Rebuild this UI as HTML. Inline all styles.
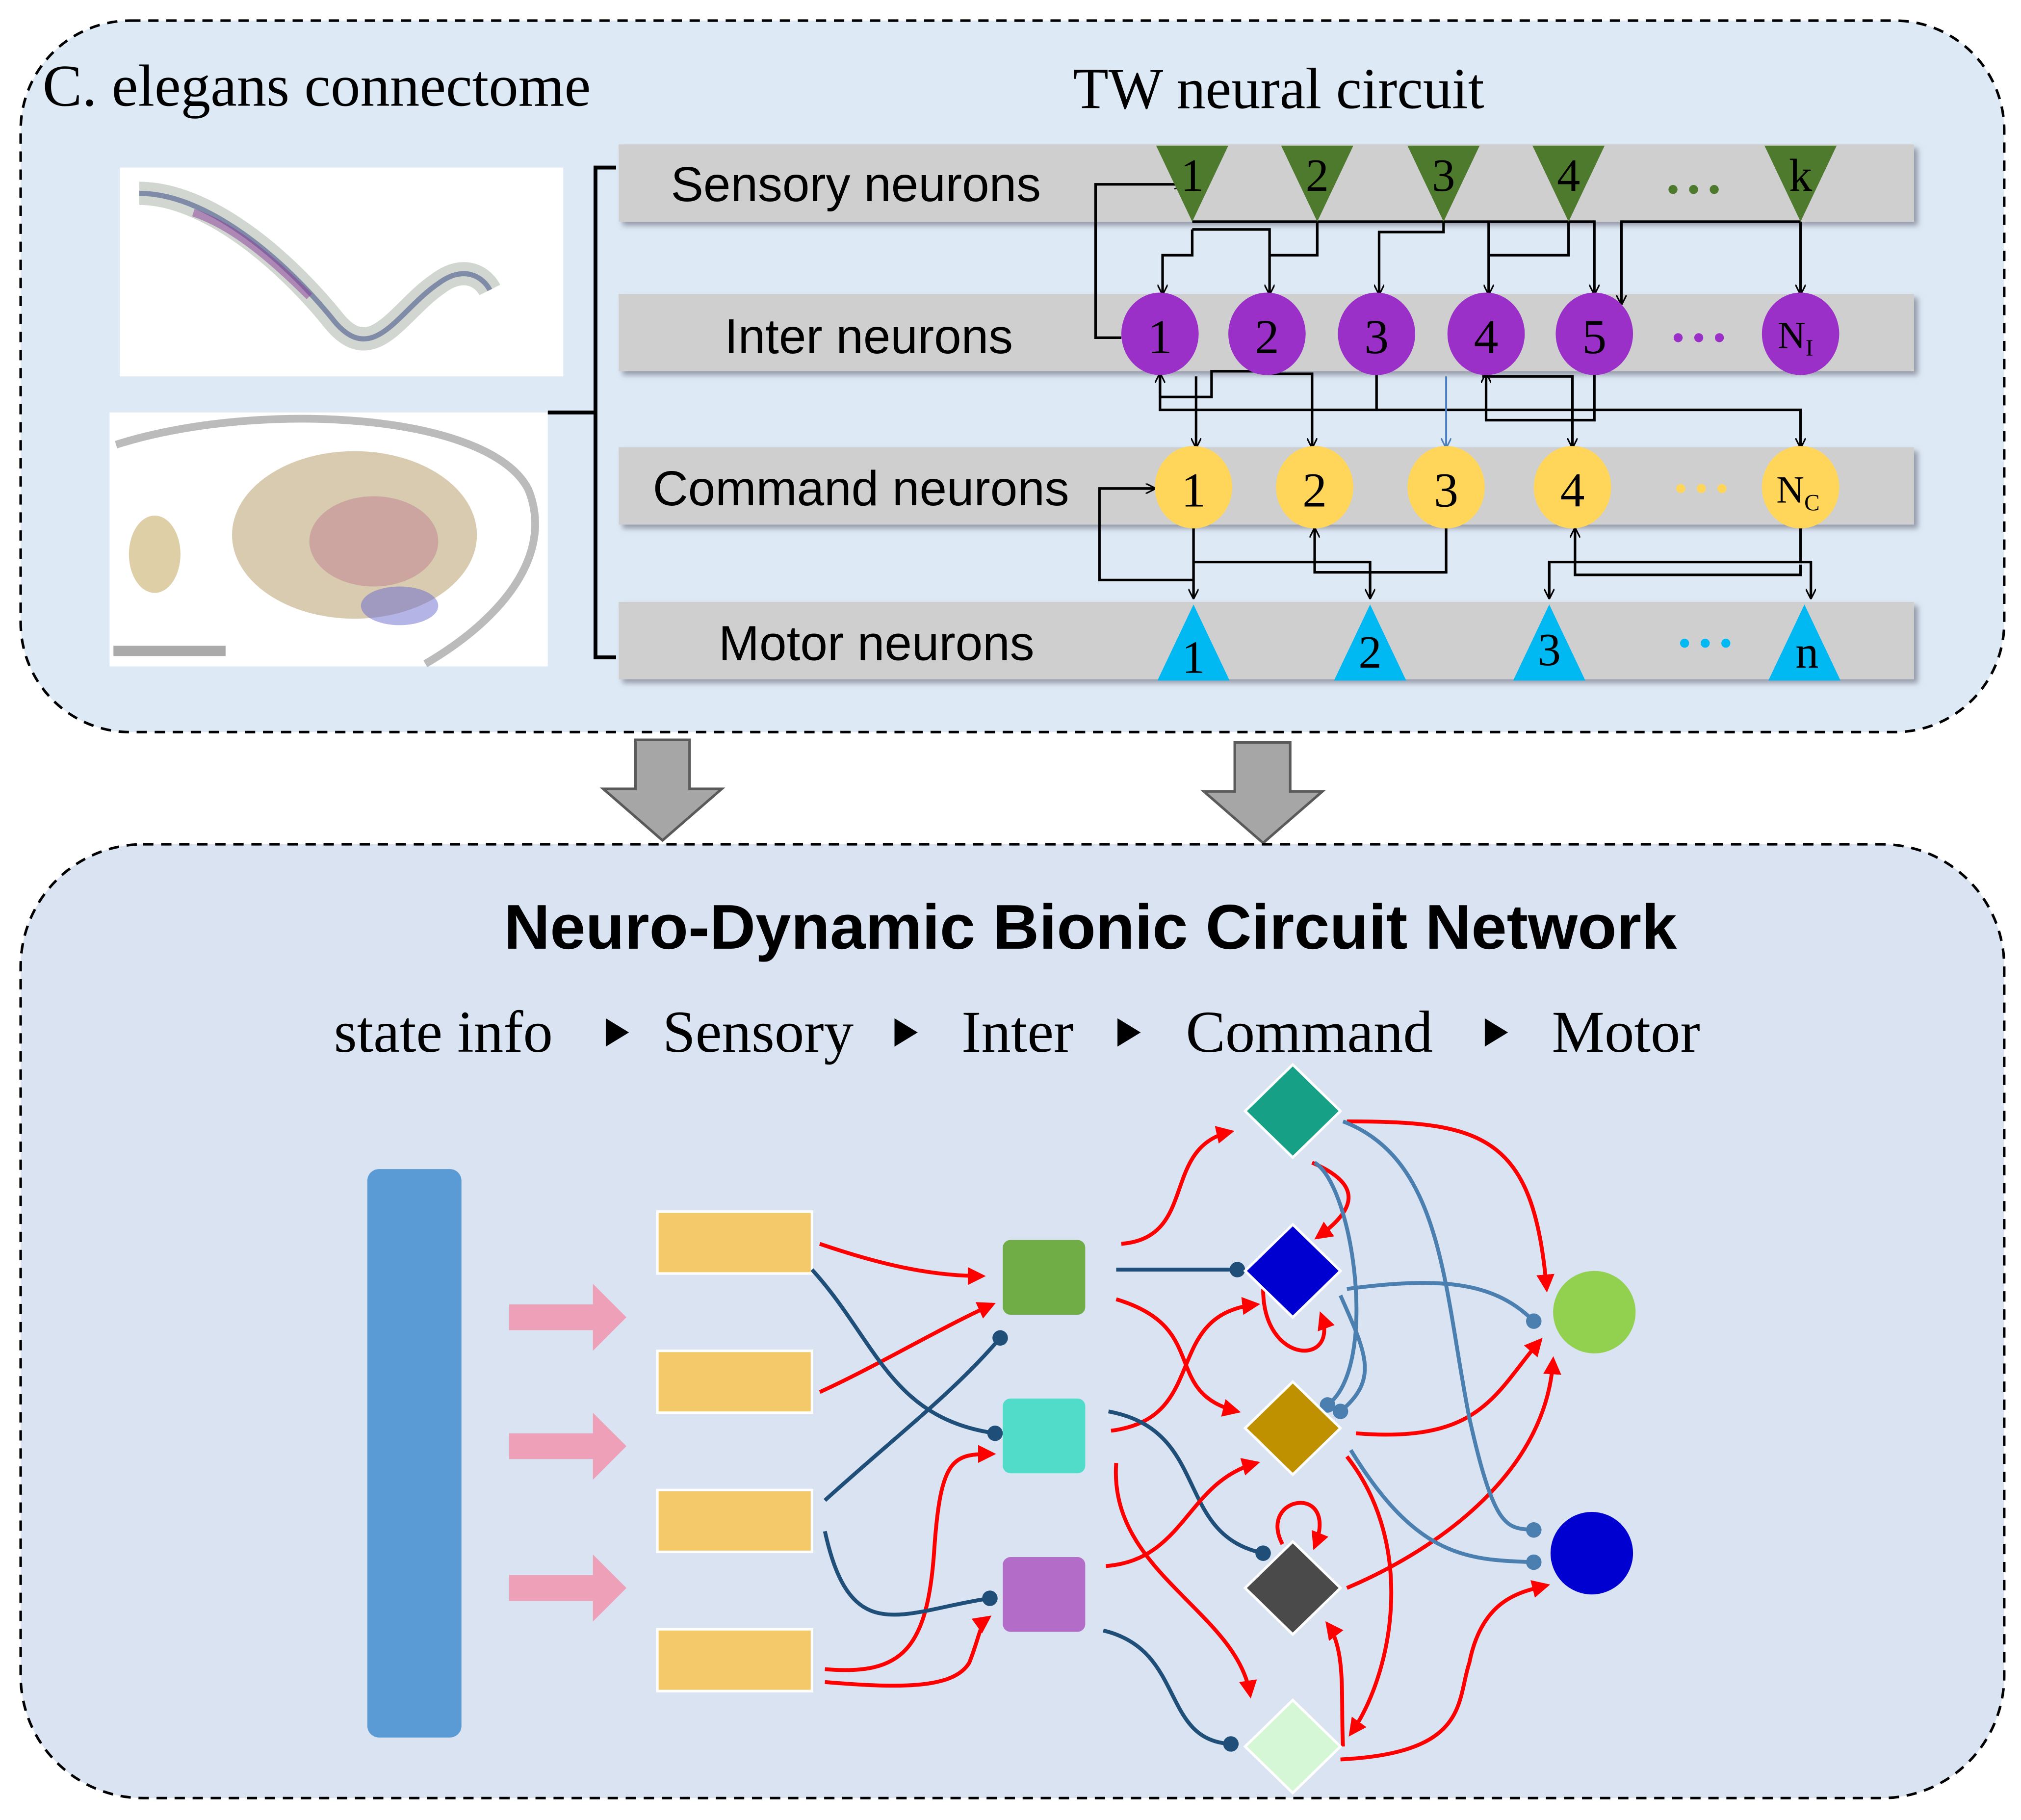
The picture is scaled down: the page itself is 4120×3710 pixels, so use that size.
<!DOCTYPE html>
<html><head><meta charset="utf-8"><style>
html,body{margin:0;padding:0;background:#fff}
svg{display:block}
.serif{font-family:"Liberation Serif",serif}
.sans{font-family:"Liberation Sans",sans-serif}
</style></head><body>
<svg width="4120" height="3710" viewBox="0 0 1568 1412" xmlns="http://www.w3.org/2000/svg">
<defs>
<marker id="a" viewBox="0 0 10 10" refX="9" refY="5" markerWidth="8" markerHeight="8" orient="auto-start-reverse" markerUnits="userSpaceOnUse"><path d="M0,0 L10,5 L0,10" fill="none" stroke="#000" stroke-width="1.5"/></marker>
<marker id="ab" viewBox="0 0 10 10" refX="9" refY="5" markerWidth="8" markerHeight="8" orient="auto" markerUnits="userSpaceOnUse"><path d="M0,0 L10,5 L0,10" fill="none" stroke="#4a7fc0" stroke-width="1.5"/></marker>
<marker id="r" viewBox="0 0 10 10" refX="8" refY="5" markerWidth="14" markerHeight="14" orient="auto" markerUnits="userSpaceOnUse"><path d="M0,0 L10,5 L0,10 z" fill="#f00"/></marker>
<marker id="d" viewBox="0 0 10 10" refX="5" refY="5" markerWidth="12" markerHeight="12" orient="auto" markerUnits="userSpaceOnUse"><circle cx="5" cy="5" r="5" fill="#1f4e79"/></marker>
<marker id="d2" viewBox="0 0 10 10" refX="5" refY="5" markerWidth="12" markerHeight="12" orient="auto" markerUnits="userSpaceOnUse"><circle cx="5" cy="5" r="5" fill="#4a7fb0"/></marker>
<filter id="sh" x="-5%" y="-20%" width="112%" height="150%"><feDropShadow dx="3" dy="3" stdDeviation="2" flood-color="#667" flood-opacity="0.6"/></filter>
</defs>
<rect width="1568" height="1412" fill="#fff"/>
<rect x="16" y="16" width="1539" height="552" rx="85" fill="#dde9f5" stroke="#000" stroke-width="2" stroke-dasharray="8,6"/>
<text x="33" y="82" class="serif" font-size="46">C. elegans connectome</text>
<text x="992" y="84" class="serif" font-size="45" text-anchor="middle">TW neural circuit</text>
<rect x="93" y="130" width="344" height="162" fill="#fff"/>
<path d="M108,150 C160,150 220,200 260,250 C290,285 310,240 340,220 C360,205 375,215 380,225" fill="none" stroke="#7a8a7a" stroke-width="18" opacity="0.35"/>
<path d="M108,150 C160,150 220,200 260,250 C290,285 310,240 340,220 C360,205 375,215 380,225" fill="none" stroke="#4a5a8a" stroke-width="4" opacity="0.6"/>
<path d="M150,165 C180,175 210,200 240,230" fill="none" stroke="#8a3a9a" stroke-width="6" opacity="0.5"/>
<rect x="85" y="320" width="340" height="197" fill="#fff"/>
<path d="M90,345 C200,310 380,320 410,380 C430,430 390,480 330,515" fill="none" stroke="#bbb" stroke-width="6"/>
<ellipse cx="275" cy="415" rx="95" ry="65" fill="#b8a070" opacity="0.55"/>
<ellipse cx="290" cy="420" rx="50" ry="35" fill="#c08090" opacity="0.5"/>
<ellipse cx="120" cy="430" rx="20" ry="30" fill="#c0a050" opacity="0.5"/>
<ellipse cx="310" cy="470" rx="30" ry="15" fill="#6a6ad0" opacity="0.5"/>
<path d="M88,505 L175,505" stroke="#aaa" stroke-width="8"/>
<path d="M478,130 L462,130 L462,510 L478,510 M462,320 L425,320" fill="none" stroke="#000" stroke-width="3"/>
<g fill="#cfcfcf" filter="url(#sh)">
<rect x="480" y="112" width="1005" height="60"/>
<rect x="480" y="228" width="1005" height="60"/>
<rect x="480" y="347" width="1005" height="60"/>
<rect x="480" y="467" width="1005" height="60"/>
</g>
<g class="sans" font-size="38" text-anchor="middle">
<text x="664" y="156">Sensory neurons</text>
<text x="674" y="274">Inter neurons</text>
<text x="668" y="392">Command neurons</text>
<text x="680" y="512">Motor neurons</text>
</g>
<g fill="none" stroke="#000" stroke-width="2">
<polyline points="870,262 850,262 850,143 918,143" marker-end="url(#a)"/>
<polyline points="925,172 1237,172 1237,228" marker-end="url(#a)"/>
<polyline points="925,178 925,198 902,198 902,228" marker-end="url(#a)"/>
<polyline points="925,178 985,178 985,228" marker-end="url(#a)"/>
<polyline points="1022,172 1022,198 985,198"/>
<polyline points="1120,172 1120,180 1070,180 1070,228" marker-end="url(#a)"/>
<polyline points="1155,172 1155,228" marker-end="url(#a)"/>
<polyline points="1217,172 1217,198 1155,198"/>
<polyline points="1397,172 1258,172 1258,236" marker-end="url(#a)"/>
<polyline points="1397,172 1397,228" marker-end="url(#a)"/>
<polyline points="900,288 900,318 1397,318 1397,347" marker-end="url(#a)"/>
<polyline points="928,292 928,347" marker-end="url(#a)"/>
<polyline points="983,288 940,288 940,308 900,308 900,290" marker-end="url(#a)"/>
<polyline points="983,290 1018,290 1018,347" marker-end="url(#a)"/>
<polyline points="1068,290 1068,318"/>
<polyline points="1237,290 1237,326 1153,326 1153,290" marker-end="url(#a)"/>
<polyline points="1150,292 1220,292 1220,347" marker-end="url(#a)"/>
<polyline points="926,408 926,464" marker-end="url(#a)"/>
<polyline points="926,436 1063,436 1063,464" marker-end="url(#a)"/>
<polyline points="1122,408 1122,444 1020,444 1020,410" marker-end="url(#a)"/>
<polyline points="1397,408 1397,436 1202,436 1202,464" marker-end="url(#a)"/>
<polyline points="1397,436 1405,436 1405,464" marker-end="url(#a)"/>
<polyline points="1397,438 1397,446 1222,446 1222,410" marker-end="url(#a)"/>
<polyline points="926,450 853,450 853,379 896,379" marker-end="url(#a)"/>
</g>
<polyline points="1122,292 1122,347" fill="none" stroke="#4a7fc0" stroke-width="1.5" marker-end="url(#ab)"/>
<g fill="#4e7a2e">
<polygon points="897,113 953,113 925,172"/><polygon points="994,113 1050,113 1022,172"/>
<polygon points="1092,113 1148,113 1120,172"/><polygon points="1189,113 1245,113 1217,172"/>
<polygon points="1369,113 1425,113 1397,172"/>
</g>
<g class="serif" font-size="36" text-anchor="middle">
<text x="925" y="148">1</text><text x="1022" y="148">2</text><text x="1120" y="148">3</text><text x="1217" y="148">4</text><text x="1397" y="148">k</text>
</g>
<g fill="#4e7a2e"><circle cx="1298" cy="147" r="3.5"/><circle cx="1314" cy="147" r="3.5"/><circle cx="1330" cy="147" r="3.5"/></g>
<g fill="#9a30c8">
<ellipse cx="900" cy="259" rx="30" ry="32"/><ellipse cx="983" cy="259" rx="30" ry="32"/><ellipse cx="1068" cy="259" rx="30" ry="32"/><ellipse cx="1153" cy="259" rx="30" ry="32"/><ellipse cx="1237" cy="259" rx="30" ry="32"/><ellipse cx="1397" cy="259" rx="30" ry="32"/>
<circle cx="1302" cy="262" r="3.5"/><circle cx="1318" cy="262" r="3.5"/><circle cx="1334" cy="262" r="3.5"/>
</g>
<g class="serif" font-size="38" text-anchor="middle">
<text x="900" y="274">1</text><text x="983" y="274">2</text><text x="1068" y="274">3</text><text x="1153" y="274">4</text><text x="1237" y="274">5</text>
<text x="1393" y="270" font-size="30">N<tspan font-size="18" dy="6">I</tspan></text>
</g>
<g fill="#ffd65a">
<ellipse cx="926" cy="378" rx="30" ry="32"/><ellipse cx="1020" cy="378" rx="30" ry="32"/><ellipse cx="1122" cy="378" rx="30" ry="32"/><ellipse cx="1220" cy="378" rx="30" ry="32"/><ellipse cx="1397" cy="378" rx="30" ry="32"/>
<circle cx="1304" cy="379" r="3.5"/><circle cx="1320" cy="379" r="3.5"/><circle cx="1336" cy="379" r="3.5"/>
</g>
<g class="serif" font-size="38" text-anchor="middle">
<text x="926" y="393">1</text><text x="1020" y="393">2</text><text x="1122" y="393">3</text><text x="1220" y="393">4</text>
<text x="1395" y="390" font-size="30">N<tspan font-size="18" dy="6">C</tspan></text>
</g>
<g fill="#00b8f2">
<polygon points="926,469 954,528 898,528"/><polygon points="1063,469 1091,528 1035,528"/><polygon points="1202,469 1230,528 1174,528"/><polygon points="1400,469 1428,528 1372,528"/>
<circle cx="1307" cy="499" r="3.5"/><circle cx="1323" cy="499" r="3.5"/><circle cx="1339" cy="499" r="3.5"/>
</g>
<g class="serif" font-size="36" text-anchor="middle">
<text x="926" y="522">1</text><text x="1063" y="518">2</text><text x="1202" y="516">3</text><text x="1402" y="518">n</text>
</g>
<g fill="#a6a6a6" stroke="#5a5a5a" stroke-width="2">
<polygon points="493,574 535,574 535,612 560,612 514,652 468,612 493,612"/>
<polygon points="958,576 1001,576 1001,614 1026,614 980,654 934,614 958,614"/>
</g>
<rect x="16" y="655" width="1539" height="740" rx="95" fill="#d9e3f2" stroke="#000" stroke-width="2" stroke-dasharray="8,6"/>
<text x="846" y="736" class="sans" font-size="49" font-weight="bold" text-anchor="middle" textLength="910" lengthAdjust="spacingAndGlyphs">Neuro-Dynamic Bionic Circuit Network</text>
<text x="259" y="816" class="serif" font-size="46">state info</text>
<text x="514" y="816" class="serif" font-size="46">Sensory</text>
<text x="746" y="816" class="serif" font-size="46">Inter</text>
<text x="920" y="816" class="serif" font-size="46">Command</text>
<text x="1204" y="816" class="serif" font-size="46">Motor</text>
<g fill="#000"><polygon points="470,790 488,801 470,812"/><polygon points="694,790 712,801 694,812"/><polygon points="867,790 885,801 867,812"/><polygon points="1152,790 1170,801 1152,812"/></g>
<rect x="285" y="907" width="73" height="441" rx="9" fill="#5b9bd5"/>
<g fill="#eea0b8">
<polygon points="395,1012 460,1012 460,996 486,1022 460,1048 460,1032 395,1032"/>
<polygon points="395,1112 460,1112 460,1096 486,1122 460,1148 460,1132 395,1132"/>
<polygon points="395,1222 460,1222 460,1206 486,1232 460,1258 460,1242 395,1242"/>
</g>
<g fill="#f4c96a" stroke="#fff" stroke-width="2">
<rect x="510" y="940" width="120" height="48"/><rect x="510" y="1048" width="120" height="48"/>
<rect x="510" y="1156" width="120" height="48"/><rect x="510" y="1264" width="120" height="48"/>
</g>
<g fill="none" stroke-width="3">
<path d="M636,965 C680,980 720,990 762,990" stroke="#f00" marker-end="url(#r)"/>
<path d="M636,1080 C680,1060 730,1030 770,1012" stroke="#f00" marker-end="url(#r)"/>
<path d="M640,1295 C700,1300 720,1280 725,1200 C730,1130 740,1128 770,1128" stroke="#f00" marker-end="url(#r)"/>
<path d="M640,1305 C700,1310 740,1310 752,1290 C760,1270 760,1260 767,1255" stroke="#f00" marker-end="url(#r)"/>
<path d="M630,985 C680,1040 690,1100 772,1112" stroke="#1f4e79" marker-end="url(#d)"/>
<path d="M640,1164 C700,1110 740,1080 776,1038" stroke="#1f4e79" marker-end="url(#d)"/>
<path d="M640,1188 C660,1280 700,1250 768,1240" stroke="#1f4e79" marker-end="url(#d)"/>
<path d="M870,965 C930,960 900,890 955,878" stroke="#f00" marker-end="url(#r)"/>
<path d="M866,985 C900,985 930,985 960,985" stroke="#1f4e79" marker-end="url(#d)"/>
<path d="M866,1008 C940,1030 900,1080 960,1095" stroke="#f00" marker-end="url(#r)"/>
<path d="M862,1110 C940,1100 900,1020 975,1012" stroke="#f00" marker-end="url(#r)"/>
<path d="M860,1095 C940,1110 910,1190 980,1205" stroke="#1f4e79" marker-end="url(#d)"/>
<path d="M866,1135 C860,1220 960,1250 970,1315" stroke="#f00" marker-end="url(#r)"/>
<path d="M858,1215 C920,1210 920,1150 975,1135" stroke="#f00" marker-end="url(#r)"/>
<path d="M856,1265 C920,1280 900,1350 955,1353" stroke="#1f4e79" marker-end="url(#d)"/>
<path d="M1018,902 C1060,920 1050,940 1022,960" stroke="#f00" marker-end="url(#r)"/>
<path d="M980,1000 C980,1060 1040,1060 1025,1020" stroke="#f00" marker-end="url(#r)"/>
<path d="M995,1198 C975,1160 1040,1150 1020,1200" stroke="#f00" marker-end="url(#r)"/>
<path d="M1045,1130 C1100,1200 1080,1300 1048,1345" stroke="#f00" marker-end="url(#r)"/>
<path d="M1042,1355 C1040,1320 1045,1280 1030,1260" stroke="#f00" marker-end="url(#r)"/>
<path d="M1045,870 C1150,870 1190,880 1200,1000" stroke="#f00" marker-end="url(#r)"/>
<path d="M1052,1112 C1150,1120 1160,1080 1195,1040" stroke="#f00" marker-end="url(#r)"/>
<path d="M1045,1232 C1120,1200 1200,1140 1205,1055" stroke="#f00" marker-end="url(#r)"/>
<path d="M1040,1365 C1140,1360 1130,1320 1140,1290 C1150,1240 1180,1235 1200,1230" stroke="#f00" marker-end="url(#r)"/>
<path d="M1020,902 C1050,920 1070,1060 1030,1090" stroke="#4a7fb0" marker-end="url(#d2)"/>
<path d="M1042,870 C1120,900 1120,1000 1140,1100 C1160,1190 1170,1185 1190,1187" stroke="#4a7fb0" marker-end="url(#d2)"/>
<path d="M1045,1000 C1120,990 1160,995 1190,1025" stroke="#4a7fb0" marker-end="url(#d2)"/>
<path d="M1040,1005 C1060,1050 1070,1070 1040,1095" stroke="#4a7fb0" marker-end="url(#d2)"/>
<path d="M1048,1125 C1100,1210 1140,1210 1190,1212" stroke="#4a7fb0" marker-end="url(#d2)"/>
</g>
<rect x="778" y="962" width="64" height="58" rx="6" fill="#70ad47"/>
<rect x="778" y="1085" width="64" height="58" rx="6" fill="#50dcc8"/>
<rect x="778" y="1208" width="64" height="58" rx="6" fill="#b36cc8"/>
<g stroke="#fff" stroke-width="2">
<polygon points="1003,826 1040,862 1003,898 966,862" fill="#16a085"/>
<polygon points="1003,950 1040,986 1003,1022 966,986" fill="#0000d0"/>
<polygon points="1003,1072 1040,1108 1003,1144 966,1108" fill="#bf9000"/>
<polygon points="1003,1196 1040,1232 1003,1268 966,1232" fill="#4a4a4a"/>
<polygon points="1003,1319 1040,1355 1003,1391 966,1355" fill="#d6f7d6"/>
</g>
<circle cx="1237" cy="1018" r="32" fill="#92d050"/>
<circle cx="1235" cy="1205" r="32" fill="#0000d0"/>
</svg>
</body></html>
